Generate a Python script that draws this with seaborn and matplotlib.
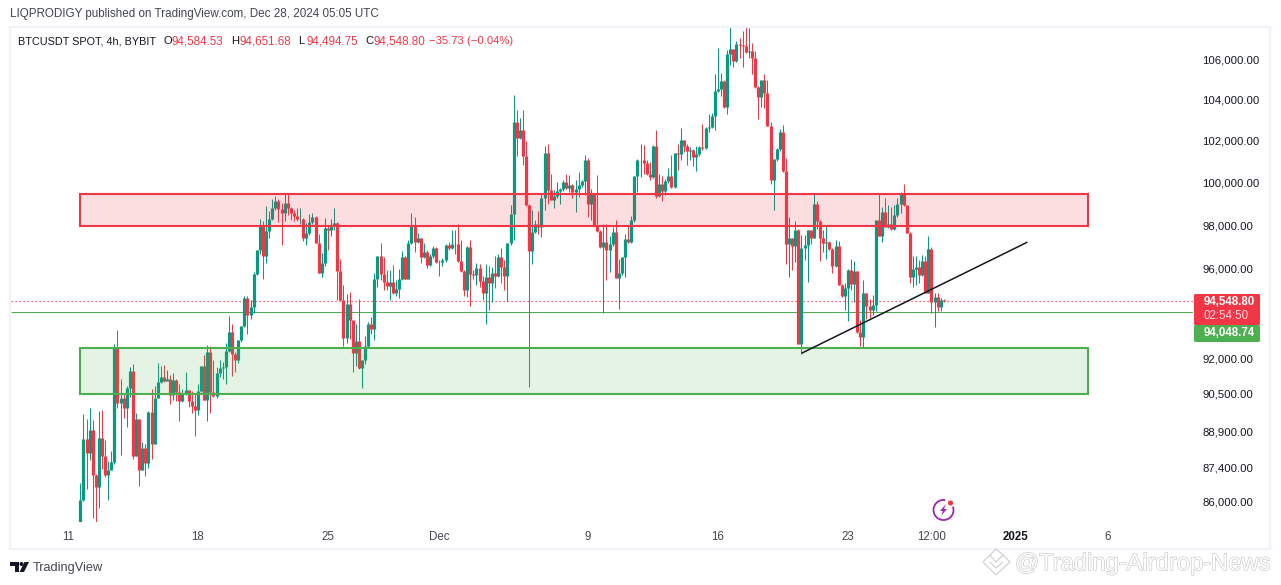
"""BTCUSDT 4h chart with supply / demand zones, seaborn version"""
import pandas as pd
import matplotlib
matplotlib.use("Agg")
import matplotlib.pyplot as plt
import matplotlib.dates as mdates
import matplotlib.patheffects as pe
from matplotlib.patches import Rectangle, Circle, Arc, Polygon, FancyBboxPatch
from matplotlib.ticker import FixedLocator, FixedFormatter, NullLocator
import seaborn as sns

GREEN = "#089981"
RED = "#f23645"
ZONE_GREEN = "#4caf50"
TEXT = "#131722"
GREY = "#434651"

first_open = 84960
closes = [
    86070, 88590, 87990, 88940, 87080, 86590, 88630, 87880, 87080, 87300,
    87620, 92470, 90100, 90320, 89870, 90750, 91460, 87850, 89400, 87270,
    88190, 87580, 89700, 88350, 90320, 90980, 91200, 91020, 91110, 90440,
    91070, 90560, 90170, 90490, 90640, 90180, 89950, 89780, 90600, 91670,
    90210, 92280, 90560, 90380, 91360, 91590, 91620, 92330, 93160, 92220,
    91930, 92810, 93420, 94670, 93930, 94280, 95750, 96840, 97950, 96570,
    97740, 98260, 98790, 99100, 98760, 98570, 99040, 98790, 98570, 98410,
    98270, 98290, 97390, 97610, 98130, 98370, 97180, 95810, 96250, 97860,
    97770, 98000, 98090, 95890, 94580, 92900, 94400, 93690, 92240, 92760,
    91590, 91930, 92540, 93540, 93300, 95520, 96570, 95750, 95400, 95210,
    95390, 94910, 95070, 95540, 96520, 95520, 97160, 97980, 97210, 97390,
    96520, 96750, 96160, 96570, 96930, 96290, 96280, 96390, 97070, 96950,
    97120, 97130, 96340, 95890, 95030, 96980, 95750, 95730, 96020, 95430,
    94890, 95610, 95340, 95790, 95660, 96520, 96080, 95660, 97160, 98510,
    102890, 102110, 102500, 101250, 98930, 96800, 97670, 98070, 97920, 99260,
    101380, 99630, 99160, 99350, 99570, 99680, 100010, 99730, 99870, 99540,
    99680, 99870, 100060, 101060, 98970, 99490, 98000, 97720, 96980, 97210,
    96840, 97120, 97670, 95570, 95790, 96510, 97350, 97210, 98230, 100290,
    101060, 101070, 100910, 100390, 100240, 101730, 99350, 99920, 99590, 100060,
    100290, 99780, 101390, 101340, 102010, 101730, 101490, 101530, 101200, 101340,
    101680, 101630, 102600, 102650, 103180, 104410, 104510, 104900, 103600, 106250,
    106500, 105900, 106750, 106700, 106650, 106350, 106400, 106050, 104600, 104110,
    104950, 104310, 102690, 100100, 101100, 101590, 102400, 100530, 97120, 97390,
    97030, 97770, 92630, 96930, 97070, 97770, 97390, 98970, 98180, 97390,
    97160, 97210, 96890, 96110, 97030, 95250, 94760, 95120, 95930, 95300,
    95890, 93160, 92950, 94880, 94310, 94130, 94360, 98230, 97490, 98600,
    97920, 98040, 97800, 98460, 98970, 99440, 98930, 97640, 95610, 95970,
    96070, 95700, 96340, 94910, 96890, 94490, 94710, 94260, 94584.53, 94548.80,
]
highs = [
    86750, 89610, 89430, 89900, 89360, 87130, 89740, 89810, 88520, 87640,
    88060, 92630, 93250, 91140, 90500, 90810, 91650, 91760, 89660, 89400,
    88450, 88380, 89760, 90670, 90810, 91820, 91670, 91720, 91530, 91280,
    91360, 91120, 90920, 90710, 91410, 90640, 90610, 90540, 90900, 91670,
    92150, 92590, 92540, 91930, 91650, 91930, 91860, 92690, 93870, 93510,
    92300, 92810, 93420, 94760, 94760, 94610, 95870, 96840, 98300, 98180,
    98880, 98660, 99190, 99350, 99190, 99010, 99500, 99440, 98820, 98720,
    98800, 98800, 98320, 98100, 98510, 98540, 98410, 97580, 96720, 98320,
    97950, 98300, 98790, 98140, 96450, 95240, 94850, 94940, 93720, 93510,
    94620, 91960, 92980, 93600, 93810, 95810, 96570, 97150, 96540, 95930,
    95930, 96160, 95480, 95980, 96810, 96570, 97330, 98550, 98390, 97610,
    97390, 97160, 96840, 96690, 97030, 97000, 96390, 96480, 97120, 97230,
    97770, 97770, 98070, 97300, 95930, 97030, 97300, 95930, 96260, 96200,
    95660, 96200, 96110, 96080, 96570, 96660, 96930, 96410, 97160, 98930,
    104210, 103470, 103080, 103470, 101970, 98970, 98720, 98230, 98660, 99440,
    101730, 101820, 100390, 99630, 100030, 99730, 100130, 100390, 100340, 99920,
    100100, 100470, 100100, 101300, 101150, 99680, 99490, 100340, 97770, 98070,
    98070, 97490, 97890, 98230, 96450, 96540, 97580, 98000, 98410, 100290,
    101100, 101820, 101770, 101060, 100960, 101770, 102500, 100390, 100290, 100160,
    100660, 101300, 101390, 101820, 102600, 102010, 101820, 101690, 101610, 101730,
    101730, 102790, 102630, 103280, 103310, 105250, 106550, 105280, 104950, 106450,
    107600, 106500, 106900, 107040, 107430, 107600, 107550, 106790, 106420, 104660,
    104950, 105250, 104950, 102890, 101100, 101630, 102550, 102740, 101150, 98380,
    97390, 98180, 97810, 97530, 97530, 97770, 97770, 99480, 99100, 98230,
    97770, 97950, 97270, 96930, 97300, 97270, 95300, 95330, 95990, 96450,
    96360, 95890, 93690, 95480, 94880, 94650, 94800, 98230, 99440, 98850,
    99240, 98930, 98850, 98940, 99240, 99540, 99920, 98930, 97670, 96570,
    96570, 96390, 96610, 96570, 97490, 97000, 94880, 94880, 94670, 94651.68,
]
lows = [
    85150, 86010, 86520, 87690, 85340, 85180, 85730, 87330, 87000, 86040,
    87270, 87550, 89870, 87890, 89460, 89080, 90350, 87750, 87850, 86620,
    87270, 87020, 87370, 87740, 88350, 90290, 90950, 90990, 91020, 90040,
    90210, 90180, 89330, 90140, 90420, 89930, 89670, 88680, 89590, 90570,
    90210, 89330, 89670, 90350, 90320, 91210, 91100, 90900, 92300, 91240,
    91430, 91820, 92750, 93390, 93070, 93750, 93990, 95720, 96660, 95540,
    96260, 97390, 98230, 98690, 98130, 97090, 98170, 98480, 98230, 98200,
    98200, 98070, 97270, 97070, 97550, 98070, 97180, 95810, 95630, 96110,
    96840, 97490, 97770, 94580, 94550, 92540, 92690, 92880, 91410, 91670,
    91560, 90720, 91760, 92490, 93070, 92810, 95180, 95480, 95030, 95030,
    94580, 94850, 94760, 94670, 95480, 95520, 95520, 97120, 96780, 97180,
    96260, 96490, 96020, 96130, 96480, 96260, 95660, 96110, 96310, 96870,
    96900, 96690, 96290, 95840, 94760, 94700, 94310, 95550, 95250, 95180,
    94580, 93510, 94120, 94500, 95120, 95630, 95330, 95030, 94530, 97090,
    97300, 101250, 102080, 100810, 98880, 90780, 96200, 97610, 97580, 97460,
    98690, 98970, 99160, 98770, 99240, 98970, 99600, 99700, 99550, 99240,
    98600, 99320, 99790, 99400, 98350, 98230, 97950, 97690, 96930, 93990,
    95480, 95840, 97030, 95570, 94190, 95720, 95630, 97150, 97180, 98150,
    99540, 100260, 100390, 100340, 100100, 100210, 99260, 99320, 99110, 99400,
    99980, 99740, 99740, 100580, 101060, 101460, 100800, 101060, 100770, 100530,
    101260, 101530, 101600, 102420, 102580, 102500, 104360, 104160, 103570, 103280,
    105700, 105580, 105870, 106030, 105620, 106320, 106030, 105250, 104560, 103030,
    103640, 103550, 102690, 99920, 98690, 101020, 101480, 100480, 96200, 95630,
    95930, 96310, 92630, 92190, 96390, 95390, 97120, 97380, 97800, 96360,
    96750, 96460, 96840, 95810, 96080, 95250, 94730, 94160, 93660, 95030,
    94500, 93130, 92540, 92490, 93760, 93780, 93910, 94100, 97490, 97220,
    97920, 97850, 97770, 97770, 98380, 98540, 98880, 97610, 95330, 95180,
    95250, 95330, 95660, 94900, 94880, 93990, 93380, 94100, 94100, 94494.75,
]

price_ticks = [106000, 104000, 102000, 100000, 98000, 96000, 92000, 90500, 88900, 87400, 86000]
price_labels = ["106,000.00", "104,000.00", "102,000.00", "100,000.00", "98,000.00", "96,000.00",
                "92,000.00", "90,500.00", "88,900.00", "87,400.00", "86,000.00"]
time_ticks = ["2024-11-11", "2024-11-18", "2024-11-25", "2024-12-01", "2024-12-09", "2024-12-16",
              "2024-12-23", "2024-12-27 12:00", "2025-01-01", "2025-01-06"]
time_labels = ["11", "18", "25", "Dec", "9", "16", "23", "12:00", "2025", "6"]

last_price = 94548.80
other_price = 94048.74
red_zone = (97950, 99443)
green_zone = (90465, 92460)
zone_span = ("2024-11-11 16:00", "2025-01-04 22:30")
trend_dates = ["2024-12-20 12:00", "2025-01-01 16:00"]
trend_prices = [92235, 97210]

# candles table
dates = pd.date_range("2024-11-11 16:00", periods=len(closes), freq="4h")
opens = [first_open] + closes[:-1]
df = pd.DataFrame({"date": dates, "open": opens, "high": highs, "low": lows, "close": closes})
df["candle"] = range(len(df))
df["dir"] = ["up" if c >= o else "down" for o, c in zip(df["open"], df["close"])]
wicks = df.melt(id_vars=["date", "candle", "dir"], value_vars=["low", "high"], value_name="price")
bodies = df.melt(id_vars=["date", "candle", "dir"], value_vars=["open", "close"], value_name="price")

sns.set_theme(style="white", rc={"lines.solid_capstyle": "butt"})
plt.rcParams["font.family"] = ["Liberation Sans", "DejaVu Sans"]

W, H = 1281, 585
fig = plt.figure(figsize=(W / 100, H / 100), dpi=100, facecolor="white")
ax = fig.add_axes([11 / W, 1 - 522 / H, (1193 - 11) / W, (522 - 28) / H])

palette = {"up": GREEN, "down": RED}
sns.lineplot(data=wicks, x="date", y="price", hue="dir", hue_order=["up", "down"], palette=palette,
             units="candle", estimator=None, linewidth=0.75, legend=False, ax=ax)
sns.lineplot(data=bodies, x="date", y="price", hue="dir", hue_order=["up", "down"], palette=palette,
             units="candle", estimator=None, linewidth=2.3, legend=False, ax=ax)

ax.set_yscale("log")
ax.set_ylim(85165, 107566)
ax.set_xlim(pd.Timestamp("2024-11-07 22:24"), pd.Timestamp("2025-01-10 14:00"))

ax.axhline(last_price, color=RED, lw=0.9, ls=(0, (1, 2.2)), zorder=1)
ax.axhline(other_price, color=ZONE_GREEN, lw=0.75, zorder=1)

# zones
x0, x1 = mdates.date2num(pd.Timestamp(zone_span[0])), mdates.date2num(pd.Timestamp(zone_span[1]))
for (low, high), col, a in [(red_zone, RED, 0.16), (green_zone, ZONE_GREEN, 0.15)]:
    ax.add_patch(Rectangle((x0, low), x1 - x0, high - low, facecolor=col, alpha=a, edgecolor="none", zorder=3))
    ax.add_patch(Rectangle((x0, low), x1 - x0, high - low, facecolor="none", edgecolor=col, lw=1.5, zorder=3.1))

trend = pd.DataFrame({"date": pd.to_datetime(trend_dates), "price": trend_prices})
sns.lineplot(data=trend, x="date", y="price", color="#131722", linewidth=1.1, ax=ax, zorder=4)

# axes
ax.yaxis.tick_right()
ax.yaxis.set_major_locator(FixedLocator(price_ticks))
ax.yaxis.set_major_formatter(FixedFormatter(price_labels))
ax.yaxis.set_minor_locator(NullLocator())
ax.set_xticks(pd.to_datetime(time_ticks, format="ISO8601"))
ax.set_xticklabels(time_labels)
ax.tick_params(axis="y", length=0, pad=6.6, labelsize=8.2, labelcolor=TEXT)
ax.tick_params(axis="x", length=0, pad=6.8, labelsize=8.3, labelcolor=GREY)
for t in ax.get_yticklabels():
    t.set_verticalalignment("center_baseline")
for t in ax.get_xticklabels():
    if t.get_text() == "2025":
        t.set_fontweight("bold")
        t.set_color(TEXT)
ax.set_xlabel("")
ax.set_ylabel("")
sns.despine(ax=ax, left=True, bottom=True, right=True, top=True)

# everything outside the plot is placed in pixels on an overlay
ov = fig.add_axes([0, 0, 1, 1], zorder=10)
ov.set_xlim(0, W)
ov.set_ylim(H, 0)
ov.axis("off")
ov.patch.set_alpha(0)

ov.add_patch(Rectangle((10, 27), 1260, 522, fill=False, edgecolor="#f0f3fa", lw=1.6))

ov.text(10, 14, "LIQPRODIGY published on TradingView.com, Dec 28, 2024 05:05 UTC", fontsize=8.35,
        color=GREY, va="center")
ov.text(18, 41.5, "BTCUSDT SPOT, 4h, BYBIT", fontsize=7.8, color=TEXT, va="center")
for x, letter, value in [(163, "O", "94,584.53"), (231, "H", "94,651.68"), (298, "L", "94,494.75"),
                         (365, "C", "94,548.80")]:
    ov.text(x, 41.5, letter, fontsize=8.1, color=TEXT, va="center")
    ov.text(x + 8.5, 41.5, value, fontsize=8.4, color=RED, va="center")
ov.text(429, 41.5, "\u221235.73 (\u22120.04%)", fontsize=8.1, color=RED, va="center")

# price tags
ov.add_patch(FancyBboxPatch((1195, 295), 64, 29, boxstyle="round,pad=1,rounding_size=1.5", facecolor=RED, edgecolor="none"))
ov.add_patch(FancyBboxPatch((1195, 326), 64, 15, boxstyle="round,pad=1,rounding_size=1.5", facecolor=ZONE_GREEN, edgecolor="none"))
ov.text(1229, 302, "94,548.80", fontsize=8.3, fontweight="bold", color="white", ha="center", va="center")
ov.text(1226, 316, "02:54:50", fontsize=8.3, color="#fcd5da", ha="center", va="center")
ov.text(1229, 333, "94,048.74", fontsize=8.3, fontweight="bold", color="white", ha="center", va="center")

# lightning badge
ov.add_patch(Arc((943.5, 510), 20, 20, theta1=-20, theta2=280, color="#9c27b0", lw=1.3))
ov.add_patch(Polygon([(946, 504), (940, 511), (943, 511), (941, 516), (947, 509), (944, 509)], color="#9c27b0", lw=0))
ov.add_patch(Circle((950.5, 503), 2.6, color=RED, lw=0))

# footer logo
for pts in [[(10, 562), (19, 562), (19, 572), (14.5, 572), (14.5, 566), (10, 566)],
            [(19.5, 572), (24.5, 562), (29, 562), (24, 572)]]:
    ov.add_patch(Polygon(pts, color="#131722", lw=0))
ov.add_patch(Circle((21.5, 564), 2, color="#131722", lw=0))
ov.text(33, 567.5, "TradingView", fontsize=9.2, color=GREY, va="center")

# watermark
for line in [[(983, 562), (990, 555), (996, 562), (1003, 555), (1010, 562), (996, 575), (983, 562)],
             [(990, 562), (996, 568), (1003, 562)], [(990, 555), (996, 549), (1003, 555)]]:
    xs, ys = zip(*line)
    ov.plot(xs, ys, color="#d2d2d2", lw=0.9)
ov.text(1015, 564, "@Trading-Airdrop-News", fontsize=17.1, color="white", va="center",
        path_effects=[pe.withStroke(linewidth=0.9, foreground="#c8c8c8")])

fig.savefig("out.png", dpi=100)
plt.close(fig)
